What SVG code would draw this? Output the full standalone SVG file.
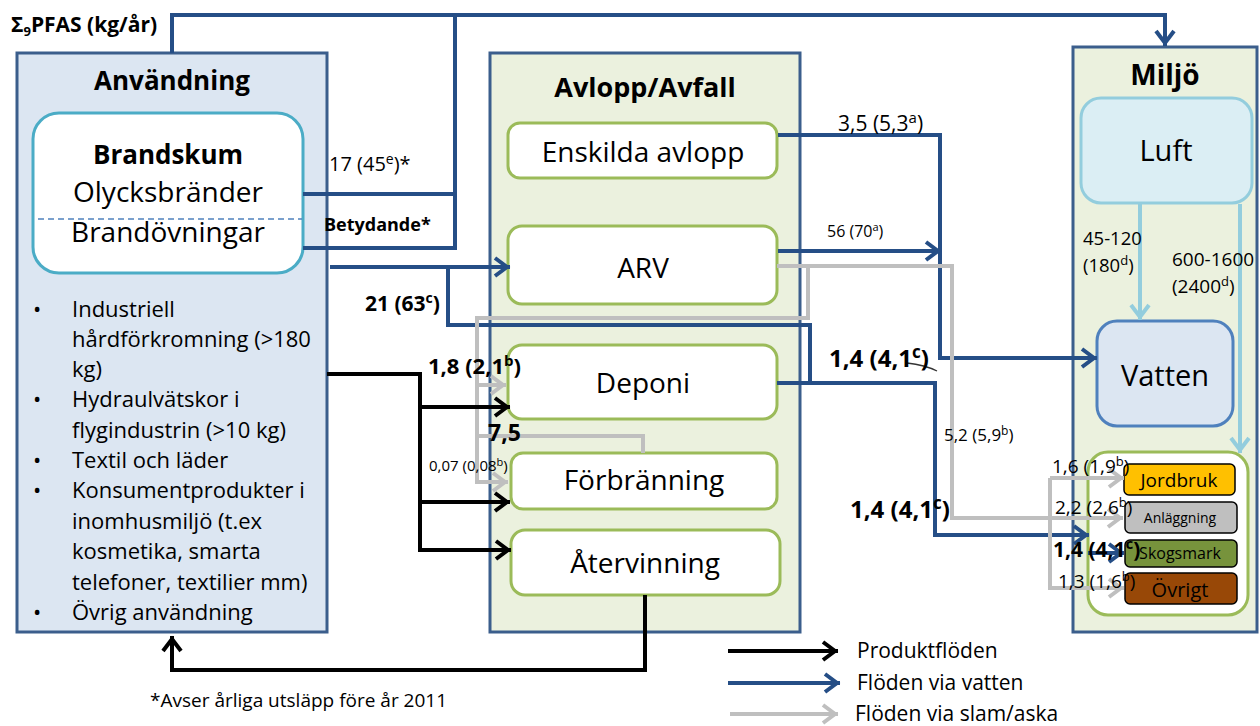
<svg xmlns="http://www.w3.org/2000/svg" width="1260" height="726" viewBox="0 0 1260 726">
<defs>
<style>
.t{font-family:"Open Sans","Liberation Sans",sans-serif;fill:#000}
.b{font-weight:bold}
.c{text-anchor:middle}
.big{stroke:#3b5e8c;stroke-width:3}
.inner{fill:#fff;stroke:#9bbb59;stroke-width:3}
.nv{fill:none;stroke:#254e86;stroke-width:4}
.gr{fill:none;stroke:#bfbfbf;stroke-width:4}
.bk{fill:none;stroke:#000;stroke-width:4}
.lb{fill:none;stroke:#93cddd;stroke-width:4}
.land{stroke:#000;stroke-width:1.5}
</style>
<marker id="aN" markerUnits="userSpaceOnUse" viewBox="-20 -14 24 28" markerWidth="24" markerHeight="28" refX="0" refY="0" orient="auto" overflow="visible"><path d="M-15,-9 L-3,0 L-15,9" fill="none" stroke="#254e86" stroke-width="4"/></marker>
<marker id="aG" markerUnits="userSpaceOnUse" viewBox="-20 -14 24 28" markerWidth="24" markerHeight="28" refX="0" refY="0" orient="auto" overflow="visible"><path d="M-15,-9 L-3,0 L-15,9" fill="none" stroke="#bfbfbf" stroke-width="4"/></marker>
<marker id="aK" markerUnits="userSpaceOnUse" viewBox="-20 -14 24 28" markerWidth="24" markerHeight="28" refX="0" refY="0" orient="auto" overflow="visible"><path d="M-15,-9 L-3,0 L-15,9" fill="none" stroke="#000" stroke-width="4"/></marker>
<marker id="aL" markerUnits="userSpaceOnUse" viewBox="-20 -14 24 28" markerWidth="24" markerHeight="28" refX="0" refY="0" orient="auto" overflow="visible"><path d="M-15,-9 L-3,0 L-15,9" fill="none" stroke="#93cddd" stroke-width="4"/></marker>
</defs>
<rect width="1260" height="726" fill="#fff"/>

<g id="anvandning">
<rect x="17" y="53" width="310" height="579" fill="#dce6f2" class="big"/>
<text x="172" y="90" class="t b c" font-size="26">Användning</text>
<g font-size="22" class="t">
<text x="33" y="317">•</text><text x="72" y="317">Industriell</text>
<text x="72" y="347">hårdförkromning (&gt;180</text>
<text x="72" y="377">kg)</text>
<text x="33" y="407">•</text><text x="72" y="407">Hydraulvätskor i</text>
<text x="72" y="438">flygindustrin (&gt;10 kg)</text>
<text x="33" y="468">•</text><text x="72" y="468">Textil och läder</text>
<text x="33" y="498">•</text><text x="72" y="498">Konsumentprodukter i</text>
<text x="72" y="529">inomhusmiljö (t.ex</text>
<text x="72" y="559">kosmetika, smarta</text>
<text x="72" y="590">telefoner, textilier mm)</text>
<text x="33" y="620">•</text><text x="72" y="620">Övrig användning</text>
</g>
</g>

<g id="brandskum">
<rect x="33" y="113" width="270" height="160" rx="26" fill="#fff" stroke="#4bacc6" stroke-width="3"/>
<line x1="38" y1="219" x2="302" y2="219" stroke="#4f81bd" stroke-width="1.5" stroke-dasharray="6 4"/>
<text x="168" y="164" class="t b c" font-size="26">Brandskum</text>
<text x="168" y="202" class="t c" font-size="28">Olycksbränder</text>
<text x="168" y="242" class="t c" font-size="28">Brandövningar</text>
</g>

<g id="avlopp">
<rect x="490" y="53" width="310" height="579" fill="#ebf1de" class="big"/>
<text x="645" y="97" class="t b c" font-size="27">Avlopp/Avfall</text>
</g>
<g id="enskilda"><rect x="508" y="123" width="269" height="55" rx="12" class="inner"/><text x="643" y="162" class="t c" font-size="28">Enskilda avlopp</text></g>
<g id="arv"><rect x="508" y="226" width="269" height="78" rx="14" class="inner"/><text x="643" y="278" class="t c" font-size="28">ARV</text></g>
<g id="deponi"><rect x="508" y="345" width="269" height="74" rx="14" class="inner"/><text x="643" y="393" class="t c" font-size="28">Deponi</text></g>
<g id="forbranning"><rect x="511" y="453" width="266" height="56" rx="12" class="inner"/><text x="644" y="490" class="t c" font-size="28">Förbränning</text></g>
<g id="atervinning"><rect x="511" y="530" width="269" height="65" rx="14" class="inner"/><text x="645" y="573" class="t c" font-size="28">Återvinning</text></g>

<g id="miljo">
<rect x="1073" y="47" width="184" height="585" fill="#ebf1de" class="big"/>
<text x="1165" y="85" class="t b c" font-size="28">Miljö</text>
</g>
<g id="luft"><rect x="1081" y="98" width="171" height="105" rx="20" fill="#dbeef4" stroke="#93cddd" stroke-width="3"/><text x="1166" y="161" class="t c" font-size="29">Luft</text></g>
<g id="vatten"><rect x="1097" y="321" width="136" height="105" rx="20" fill="#dce6f2" stroke="#4f81bd" stroke-width="3"/><text x="1165" y="386" class="t c" font-size="29">Vatten</text></g>
<g id="mark">
<rect x="1088" y="452" width="160" height="163" rx="20" fill="#fff" stroke="#9bbb59" stroke-width="3"/>
</g>
<g id="jordbruk"><rect x="1124" y="464" width="111" height="31" rx="5" fill="#ffc000" class="land"/><text x="1179" y="487" class="t c" font-size="19">Jordbruk</text></g>
<g id="anlaggning"><rect x="1125" y="502" width="112" height="31" rx="5" fill="#bfbfbf" class="land"/><text x="1180" y="523" class="t c" font-size="14">Anläggning</text></g>
<g id="skogsmark"><rect x="1125" y="540" width="112" height="27" rx="5" fill="#77933c" class="land"/><text x="1180" y="559" class="t c" font-size="16">Skogsmark</text></g>
<g id="ovrigt"><rect x="1125" y="573" width="112" height="31" rx="5" fill="#984807" class="land"/><text x="1180" y="597" class="t c" font-size="20">Övrigt</text></g>

<g id="connectors">
<path class="nv" d="M172,53 V15 H1165 V46" marker-end="url(#aN)"/>
<path class="nv" d="M303,194 H455"/>
<path class="nv" d="M303,248 H455 V15"/>
<path class="nv" d="M330,267 H510" marker-end="url(#aN)"/>
<path class="nv" d="M448,267 V325 H810 V383"/>
<path class="nv" d="M778,135 H940 V358 H1097" marker-end="url(#aN)"/>
<path class="nv" d="M778,251 H941" marker-end="url(#aN)"/>
<path class="nv" d="M777,383 H935 V535 H1089" marker-end="url(#aN)"/>
<path class="nv" d="M1088,553 H1124" marker-end="url(#aN)"/>
<path d="M907,363 Q925,365 937,371" fill="none" stroke="#333" stroke-width="1.3"/>

<path class="gr" d="M777,266 H952 V518 H1123" marker-end="url(#aG)"/>
<path class="gr" d="M808,266 V318 H477 V482 H508" marker-end="url(#aG)"/>
<path class="gr" d="M477,385 H506" marker-end="url(#aG)"/>
<path class="gr" d="M643,453 V436 H477"/>
<path class="gr" d="M1050,478 V588 H1124" marker-end="url(#aG)"/>
<path class="gr" d="M1050,478 H1124" marker-end="url(#aG)"/>

<path class="bk" d="M327,374 H420 V550 H511" marker-end="url(#aK)"/>
<path class="bk" d="M420,407 H510" marker-end="url(#aK)"/>
<path class="bk" d="M420,502 H510" marker-end="url(#aK)"/>
<path class="bk" d="M645,595 V670 H172 V636" marker-end="url(#aK)"/>

<path class="lb" d="M1140,204 V320" marker-end="url(#aL)"/>
<path class="lb" d="M1240,204 V453" marker-end="url(#aL)"/>

<path class="bk" d="M728,651 H838" marker-end="url(#aK)"/>
<path class="nv" d="M728,683 H840" marker-end="url(#aN)"/>
<path class="gr" d="M730,714 H838" marker-end="url(#aG)"/>
</g>

<g id="labels" class="t">
<text x="11" y="32" class="b" font-size="21">Σ<tspan font-size="13" dy="4">9</tspan><tspan dy="-4">PFAS (kg/år)</tspan></text>
<text x="329" y="171" font-size="20">17 (45<tspan font-size="14" dy="-7">e</tspan><tspan dy="7">)*</tspan></text>
<text x="324" y="231" class="b" font-size="18">Betydande*</text>
<text x="365" y="311" class="b" font-size="21">21 (63<tspan font-size="14" dy="-8">c</tspan><tspan dy="8">)</tspan></text>
<text x="428" y="374" class="b" font-size="22">1,8 (2,1<tspan font-size="15" dy="-8">b</tspan><tspan dy="8">)</tspan></text>
<text x="488" y="441" class="b" font-size="23">7,5</text>
<text x="429" y="471" font-size="15">0,07 (0,08<tspan font-size="11" dy="-5">b</tspan><tspan dy="5">)</tspan></text>
<text x="838" y="131" font-size="21">3,5 (5,3<tspan font-size="15" dy="-8">a</tspan><tspan dy="8">)</tspan></text>
<text x="827" y="237" font-size="16">56 (70<tspan font-size="11" dy="-6">a</tspan><tspan dy="6">)</tspan></text>
<text x="829" y="367" class="b" font-size="24">1,4 (4,1<tspan font-size="17" dy="-9">c</tspan><tspan dy="9">)</tspan></text>
<text x="944" y="441" font-size="17">5,2 (5,9<tspan font-size="12" dy="-6">b</tspan><tspan dy="6">)</tspan></text>
<text x="850" y="518" class="b" font-size="24">1,4 (4,1<tspan font-size="17" dy="-9">c</tspan><tspan dy="9">)</tspan></text>
<text x="1083" y="245" font-size="18.5">45-120</text>
<text x="1083" y="272" font-size="18.5">(180<tspan font-size="13" dy="-7">d</tspan><tspan dy="7">)</tspan></text>
<text x="1172" y="266" font-size="19">600-1600</text>
<text x="1172" y="293" font-size="19">(2400<tspan font-size="13" dy="-7">d</tspan><tspan dy="7">)</tspan></text>
<text x="1052" y="473" font-size="19">1,6 (1,9<tspan font-size="13" dy="-7">b</tspan><tspan dy="7">)</tspan></text>
<text x="1055" y="514" font-size="19">2,2 (2,6<tspan font-size="13" dy="-7">b</tspan><tspan dy="7">)</tspan></text>
<text x="1053" y="557" class="b" font-size="21">1,4 (4,1<tspan font-size="15" dy="-8">c</tspan><tspan dy="8">)</tspan></text>
<text x="1058" y="588" font-size="19">1,3 (1,6<tspan font-size="13" dy="-7">b</tspan><tspan dy="7">)</tspan></text>
<text x="150" y="707" font-size="19">*Avser årliga utsläpp före år 2011</text>
<text x="857" y="658" font-size="21">Produktflöden</text>
<text x="857" y="690" font-size="21">Flöden via vatten</text>
<text x="855" y="721" font-size="21">Flöden via slam/aska</text>
</g>
</svg>
